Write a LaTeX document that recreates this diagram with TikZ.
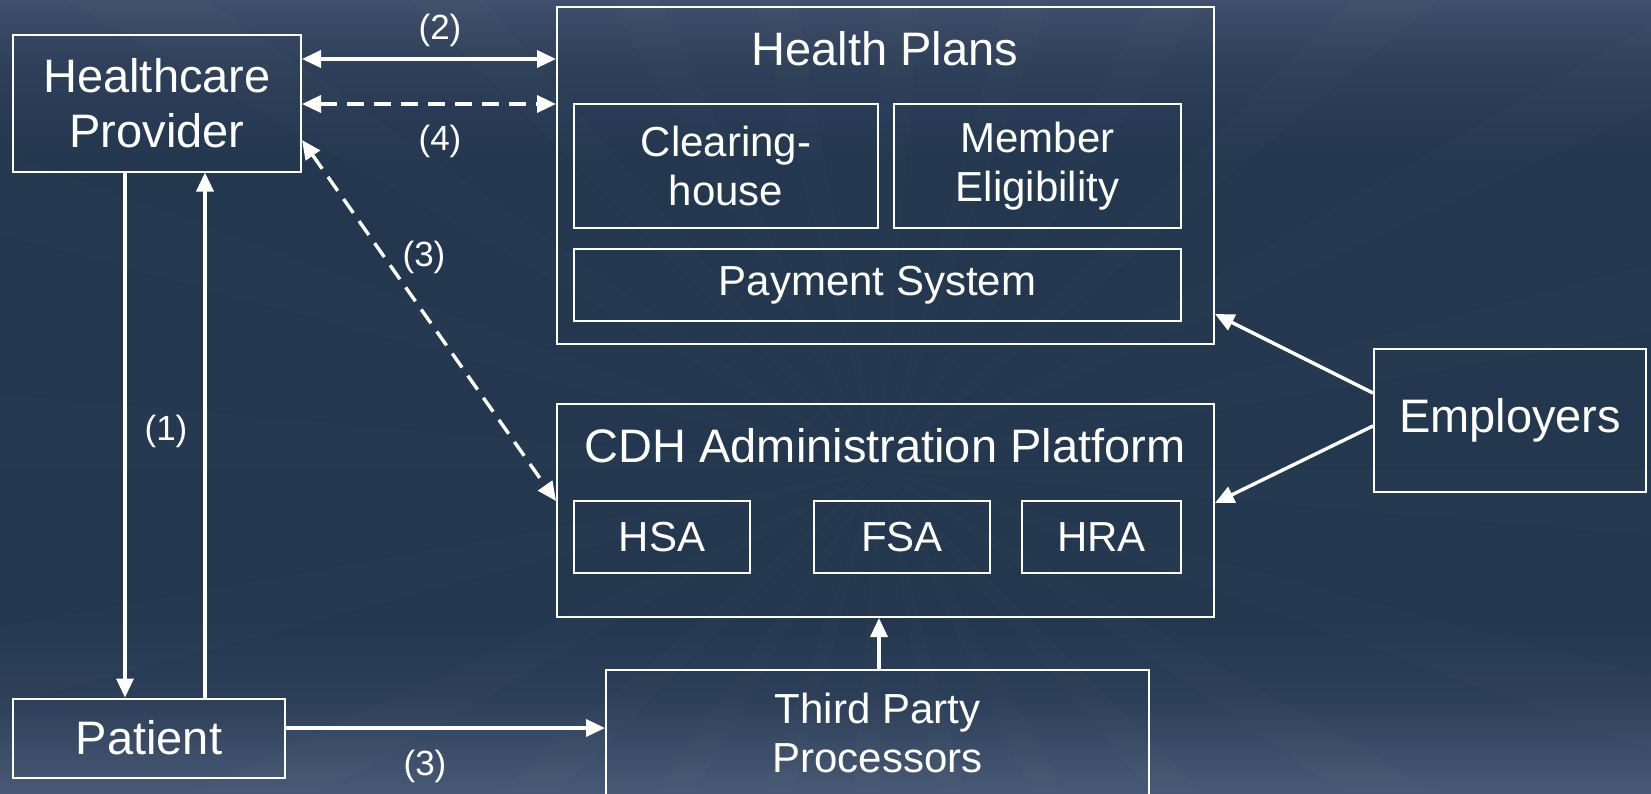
\documentclass[tikz,border=0pt]{standalone}
\usepackage{fontspec}
\setmainfont{Liberation Sans}
\usetikzlibrary{arrows.meta}

\definecolor{bgtop}{HTML}{404F6B}
\definecolor{bgtopmid}{HTML}{2F405A}
\definecolor{bgmid}{HTML}{23374F}
\definecolor{bgbotmid}{HTML}{2C3F58}
\definecolor{bgbot}{HTML}{485975}
% TikZ maps the middle half (25bp..75bp) of a shading onto the filled path
\pgfdeclareverticalshading{slidebg}{100bp}{%
  color(0bp)=(bgbot); color(25bp)=(bgbot); color(31bp)=(bgbotmid); color(36bp)=(bgmid);
  color(65bp)=(bgmid); color(71bp)=(bgtopmid); color(75bp)=(bgtop); color(100bp)=(bgtop)}

\tikzset{
  box/.style={draw=white, line width=2pt, rectangle, inner sep=0pt,
              text=white, align=center},
  bigtext/.style={font=\fontsize{47}{55}\selectfont},
  midtext/.style={font=\fontsize{42}{49.5}\selectfont},
  tag/.style={text=white, inner sep=0pt, font=\fontsize{35}{40}\selectfont},
  link/.style={draw=white, line width=3.4pt,
               -{Triangle[length=19pt,width=17pt]}},
  biglink/.style={link, {Triangle[length=19pt,width=17pt]}-{Triangle[length=19pt,width=17pt]}},
  dashlink/.style={dash pattern=on 17pt off 10pt},
}

\begin{document}
\begin{tikzpicture}[x=1pt,y=-1pt]
  % backdrop
  \useasboundingbox (0,0) rectangle (1651,793);
  \shade[shading=slidebg] (0,0) rectangle (1651,793);
  \begin{scope}
    \clip (0,0) rectangle (1651,793);
    \foreach \a in {0,15,...,345}
      \fill[white, opacity=0.012] (880,470) -- ++(\a:1400) -- ++(\a+90:120) -- cycle;
  \end{scope}

  % health plan group
  \node[box, minimum width=657pt, minimum height=337pt] (plans) at (885.5,175.5) {};
  \node[text=white, bigtext, inner sep=0pt] (planstitle) at (885,49) {Health Plans};
  \node[box, midtext, minimum width=304pt, minimum height=124pt] (clear) at (726,166) {Clearing-\\house};
  \node[box, midtext, minimum width=287pt, minimum height=124pt] (member) at (1037.5,166) {Member\\Eligibility};
  \node[box, midtext, minimum width=607pt, minimum height=72pt] (pay) at (877.5,285) {Payment System};

  % CDH group
  \node[box, minimum width=657pt, minimum height=213pt] (cdh) at (885.5,510.5) {};
  \node[text=white, bigtext, inner sep=0pt] (cdhtitle) at (885,446) {CDH Administration Platform};
  \node[box, midtext, minimum width=176pt, minimum height=72pt] (hsa) at (662,537) {HSA};
  \node[box, midtext, minimum width=176pt, minimum height=72pt] (fsa) at (902,537) {FSA};
  \node[box, midtext, minimum width=159pt, minimum height=72pt] (hra) at (1101.5,537) {HRA};

  % parties
  \node[box, bigtext, minimum width=288pt, minimum height=137pt] (hp) at (157,103) {Healthcare\\Provider};
  \node[box, bigtext, minimum width=272pt, minimum height=79pt] (patient) at (149,738) {Patient};
  \node[box, bigtext, minimum width=272pt, minimum height=143pt] (emp) at (1510,420) {Employers};
  \node[box, midtext, minimum width=543pt, minimum height=126pt] (tpp) at (877.5,733) {Third Party\\Processors};

  % flows
  \draw[biglink] (hp.east |- 0,59) -- (plans.west |- 0,59);
  \draw[biglink, dashlink] (hp.east |- 0,104) -- (plans.west |- 0,104);
  \draw[biglink, dashlink] (hp.east |- 0,140) -- (cdh.west |- 0,501);
  \draw[link] (hp.south -| 125,0) -- (patient.north -| 125,0);
  \draw[link] (patient.north -| 205,0) -- (hp.south -| 205,0);
  \draw[link] (patient.east |- 0,728) -- (tpp.west |- 0,728);
  \draw[link] (tpp.north -| 879,0) -- (cdh.south -| 879,0);
  \draw[link] (emp.west |- 0,393) -- (plans.east |- 0,314);
  \draw[link] (emp.west |- 0,426) -- (cdh.east |- 0,503);

  % step labels
  \node[tag] (l2) at (440,30) {(2)};
  \node[tag] (l4) at (440,141) {(4)};
  \node[tag] (l3a) at (424,257) {(3)};
  \node[tag] (l1) at (166,431) {(1)};
  \node[tag] (l3b) at (425,766) {(3)};
\end{tikzpicture}
\end{document}
